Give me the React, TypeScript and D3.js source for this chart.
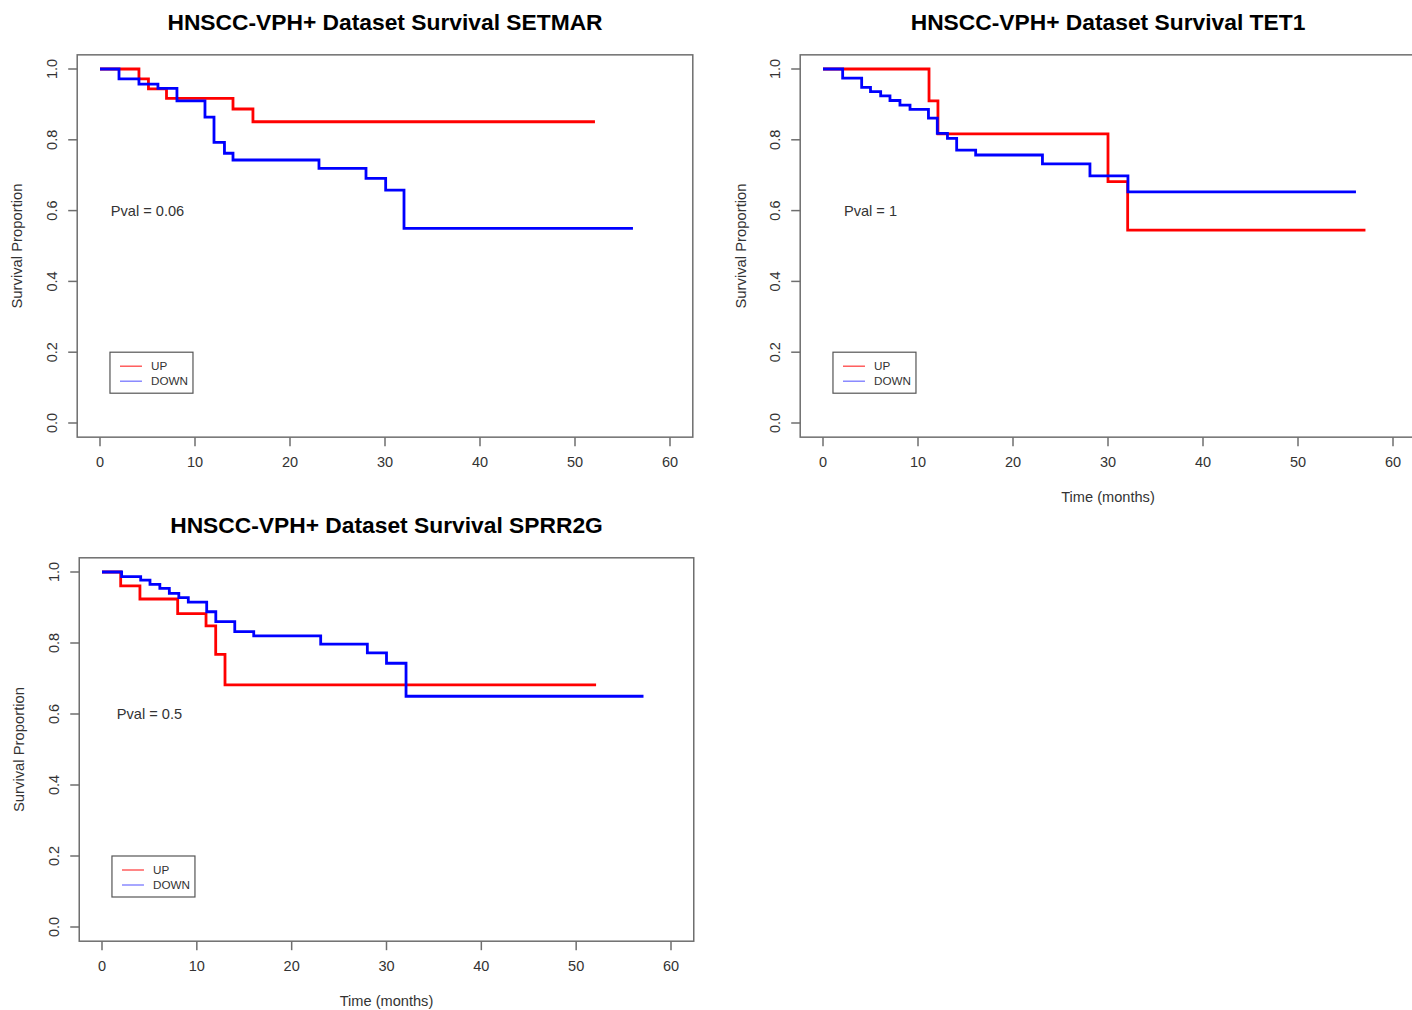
import React from "react";
import * as d3 from "d3";

const setmarUpTime = [0, 4.1, 5.1, 7.0, 14.0, 16.1, 52.1];
const setmarUpSurv = [1, 0.972, 0.944, 0.917, 0.887, 0.851, 0.851];
const setmarDownTime = [0, 2.0, 4.1, 6.1, 8.1, 11.05, 12.0, 13.1, 14.0, 23.05, 28.0, 30.07, 32.0, 56.1];
const setmarDownSurv = [1, 0.972, 0.957, 0.945, 0.91, 0.864, 0.793, 0.762, 0.743, 0.719, 0.691, 0.658, 0.55, 0.55];

const tet1UpTime = [0, 11.16, 12.1, 30.0, 32.07, 57.1];
const tet1UpSurv = [1, 0.91, 0.817, 0.682, 0.545, 0.545];
const tet1DownTime = [0, 2.07, 4.07, 5.0, 6.07, 7.05, 8.1, 9.16, 11.1, 12.03, 13.1, 14.07, 16.07, 23.1, 28.1, 32.1, 56.1];
const tet1DownSurv = [1, 0.974, 0.948, 0.936, 0.924, 0.911, 0.898, 0.886, 0.861, 0.818, 0.804, 0.771, 0.757, 0.732, 0.698, 0.653, 0.653];

const sprr2gUpTime = [0, 1.97, 4.0, 7.98, 10.97, 11.99, 12.97, 52.1];
const sprr2gUpSurv = [1, 0.961, 0.924, 0.883, 0.848, 0.768, 0.682, 0.682];
const sprr2gDownTime = [0, 2.07, 4.08, 5.06, 6.1, 7.1, 8.1, 9.1, 11.04, 12.0, 14.0, 16.0, 23.06, 27.98, 30.0, 32.06, 57.1];
const sprr2gDownSurv = [1, 0.987, 0.977, 0.965, 0.954, 0.94, 0.928, 0.915, 0.888, 0.86, 0.832, 0.82, 0.797, 0.772, 0.743, 0.65, 0.65];

const xTicks = [0, 10, 20, 30, 40, 50, 60];
const yTicks = [0, 0.2, 0.4, 0.6, 0.8, 1.0];
const legendLabels = ["UP", "DOWN"];

const FONT = "'Liberation Sans', Arial, Helvetica, sans-serif";
const RED = "#ff0000";
const BLUE = "#0000ff";

type PanelProps = {
  title: string;
  pval: string;
  upT: number[];
  upS: number[];
  downT: number[];
  downS: number[];
  x0: number;
  x60: number;
  y0: number;
  y1: number;
  yLabelX: number;
  showXTitle: boolean;
};

function Panel(p: PanelProps) {
  const x = d3.scaleLinear().domain([0, 60]).range([p.x0, p.x60]);
  const y = d3.scaleLinear().domain([0, 1]).range([p.y0, p.y1]);
  const line = d3
    .line<[number, number]>()
    .x((d) => x(d[0]))
    .y((d) => y(d[1]))
    .curve(d3.curveStepAfter);
  const up = line(p.upT.map((t, i) => [t, p.upS[i]] as [number, number])) || "";
  const down = line(p.downT.map((t, i) => [t, p.downS[i]] as [number, number])) || "";
  const left = x(-2.4);
  const right = x(62.4);
  const top = y(1.04);
  const bottom = y(-0.04);
  const axisColor = "#6e6e6e";
  const textColor = "#333";
  const lx = x(1.05);
  const ly = y(0.2);
  const cx = (left + right) / 2;
  return (
    <g>
      <text x={cx} y={p.y1 - 39} textAnchor="middle" fontFamily={FONT} fontWeight="bold" fontSize={22.8} fill="#000">
        {p.title}
      </text>
      <rect x={left} y={top} width={right - left} height={bottom - top} fill="none" stroke={axisColor} strokeWidth={1.5} />
      {xTicks.map((t) => (
        <g key={"x" + t}>
          <line x1={x(t)} x2={x(t)} y1={bottom} y2={bottom + 9} stroke={axisColor} strokeWidth={1.5} />
          <text x={x(t)} y={bottom + 30} textAnchor="middle" fontFamily={FONT} fontSize={14.5} fill={textColor}>
            {t}
          </text>
        </g>
      ))}
      {yTicks.map((t) => (
        <g key={"y" + t}>
          <line x1={left} x2={left - 9} y1={y(t)} y2={y(t)} stroke={axisColor} strokeWidth={1.5} />
          <text
            transform={`translate(${left - 20},${y(t)}) rotate(-90)`}
            textAnchor="middle"
            fontFamily={FONT}
            fontSize={14.5}
            fill={textColor}
          >
            {t.toFixed(1)}
          </text>
        </g>
      ))}
      <text
        transform={`translate(${p.yLabelX},${(top + bottom) / 2}) rotate(-90)`}
        textAnchor="middle"
        fontFamily={FONT}
        fontSize={14.8}
        fill={textColor}
      >
        Survival Proportion
      </text>
      {p.showXTitle && (
        <text x={x(30)} y={bottom + 65} textAnchor="middle" fontFamily={FONT} fontSize={14.6} fill={textColor}>
          Time (months)
        </text>
      )}
      <text x={x(5)} y={y(0.6) + 5} textAnchor="middle" fontFamily={FONT} fontSize={14.6} fill={textColor}>
        {p.pval}
      </text>
      <path d={up} fill="none" stroke={RED} strokeWidth={2.8} />
      <path d={down} fill="none" stroke={BLUE} strokeWidth={2.8} />
      <rect x={lx} y={ly} width={83} height={41} fill="#fff" stroke="#555" strokeWidth={1.2} />
      {legendLabels.map((lab, i) => (
        <g key={lab}>
          <line x1={lx + 10} x2={lx + 32} y1={ly + 14 + i * 15} y2={ly + 14 + i * 15} stroke={i === 0 ? "#ff4444" : "#7777ff"} strokeWidth={1.3} />
          <text x={lx + 41} y={ly + 18 + i * 15} fontFamily={FONT} fontSize={11.7} fill={textColor}>
            {lab}
          </text>
        </g>
      ))}
    </g>
  );
}

export default function App() {
  return (
    <svg
      width={1412}
      height={1010}
      style={{ position: "absolute", left: 0, top: 0, display: "block", background: "#fff" }}
    >
      <rect x={0} y={0} width={1412} height={1010} fill="#fff" />
      <Panel
        title="HNSCC-VPH+ Dataset Survival SETMAR"
        pval="Pval = 0.06"
        upT={setmarUpTime}
        upS={setmarUpSurv}
        downT={setmarDownTime}
        downS={setmarDownSurv}
        x0={100}
        x60={670}
        y0={423}
        y1={69}
        yLabelX={22}
        showXTitle={false}
      />
      <Panel
        title="HNSCC-VPH+ Dataset Survival TET1"
        pval="Pval = 1"
        upT={tet1UpTime}
        upS={tet1UpSurv}
        downT={tet1DownTime}
        downS={tet1DownSurv}
        x0={823}
        x60={1393}
        y0={423}
        y1={69}
        yLabelX={746}
        showXTitle={true}
      />
      <Panel
        title="HNSCC-VPH+ Dataset Survival SPRR2G"
        pval="Pval = 0.5"
        upT={sprr2gUpTime}
        upS={sprr2gUpSurv}
        downT={sprr2gDownTime}
        downS={sprr2gDownSurv}
        x0={102}
        x60={671}
        y0={927}
        y1={572}
        yLabelX={24}
        showXTitle={true}
      />
    </svg>
  );
}
